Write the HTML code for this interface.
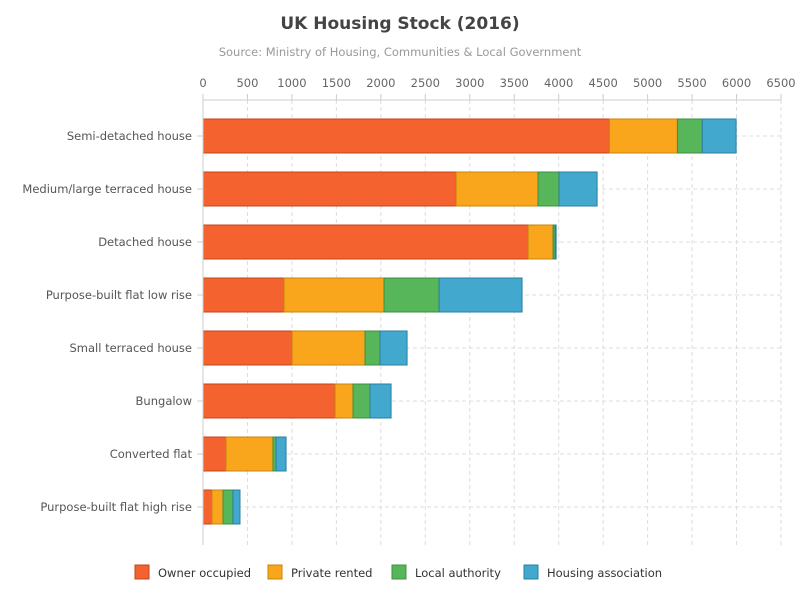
<!DOCTYPE html>
<html><head><meta charset="utf-8"><style>
body{margin:0;background:#fff;font-family:"DejaVu Sans","Liberation Sans",sans-serif}
</style></head><body>
<svg id="chart" width="800" height="600" xmlns="http://www.w3.org/2000/svg" font-family="DejaVu Sans, Liberation Sans, sans-serif">
<rect width="800" height="600" fill="#fff"/>
<text x="400" y="29" text-anchor="middle" font-size="17" font-weight="bold" fill="#444">UK Housing Stock (2016)</text>
<text x="400" y="56" text-anchor="middle" font-size="11.5" fill="#999">Source: Ministry of Housing, Communities &amp; Local Government</text>
<g id="grid"></g><g id="bars"></g><g id="axes"></g><g id="legend"></g>
</svg>
<script>
const categories=["Semi-detached house","Medium/large terraced house","Detached house","Purpose-built flat low rise","Small terraced house","Bungalow","Converted flat","Purpose-built flat high rise"];
const ownerOccupied=[4570,2846,3656,911,1001,1485,259,101];
const privateRented=[765,922,281,1125,821,202,528,124];
const localAuthority=[280,236,23,619,169,191,34,112];
const housingAssociation=[380,428,11,933,304,237,113,79];
const ticks=[0,500,1000,1500,2000,2500,3000,3500,4000,4500,5000,5500,6000,6500];
const seriesNames=["Owner occupied","Private rented","Local authority","Housing association"];
const colors=["#f4632f","#f9a61c","#57b55a","#42a8cd"];
const strokes=["#c0461c","#c8840e","#3f8f42","#2a7f9f"];
const NS="http://www.w3.org/2000/svg";
const x0=203,x1=781,plotTop=100,plotBot=545;
const X=v=>x0+(v/6500)*(x1-x0);
const Y=i=>136+i*53;
function mk(t,a,p){const e=document.createElementNS(NS,t);for(const k in a)e.setAttribute(k,a[k]);p.appendChild(e);return e;}
const grid=document.getElementById('grid'),axes=document.getElementById('axes'),bars=document.getElementById('bars'),legend=document.getElementById('legend');
ticks.forEach(t=>{
 if(t>0){const l=mk('line',{x1:X(t),x2:X(t),y1:plotTop,y2:plotBot,stroke:'#ddd','stroke-dasharray':'4,3'},grid);
 
 }
 mk('line',{x1:X(t),x2:X(t),y1:plotTop-6,y2:plotTop,stroke:'#ccc'},axes);
 const tx=mk('text',{x:X(t),y:plotTop-13,'text-anchor':'middle','font-size':11.5,fill:'#666'},axes);tx.textContent=t;
 
 
});
categories.forEach((c,i)=>{
 const l=mk('line',{x1:x0,x2:x1,y1:Y(i),y2:Y(i),stroke:'#ddd','stroke-dasharray':'4,3'},grid);
 
 
 mk('line',{x1:x0-6,x2:x0,y1:Y(i),y2:Y(i),stroke:'#ccc'},axes);
 const t=mk('text',{x:192,y:Y(i)+4,'text-anchor':'end','font-size':11.5,fill:'#555'},axes);t.textContent=c;
 
 
 const vals=[ownerOccupied[i],privateRented[i],localAuthority[i],housingAssociation[i]];
 let acc=0;
 vals.forEach((v,s)=>{
  const r=mk('rect',{x:X(acc),y:Y(i)-17,width:X(acc+v)-X(acc),height:34,fill:colors[s],stroke:strokes[s],'stroke-width':1},bars);
  
  
  acc+=v;
 });
});
mk('line',{x1:x0,x2:x1,y1:plotTop,y2:plotTop,stroke:'#ccc'},axes);
mk('line',{x1:x0,x2:x0,y1:plotTop,y2:plotBot,stroke:'#ccc'},axes);
const lx=[135,268,392,524];
seriesNames.forEach((n,s)=>{
 const g=mk('g',{},legend);
 
 
 mk('rect',{x:lx[s],y:565,width:14,height:14,fill:colors[s],stroke:strokes[s]},g);
 const t=mk('text',{x:lx[s]+23,y:577,'font-size':11.5,fill:'#333'},g);t.textContent=n;
});
</script>
</body></html>
